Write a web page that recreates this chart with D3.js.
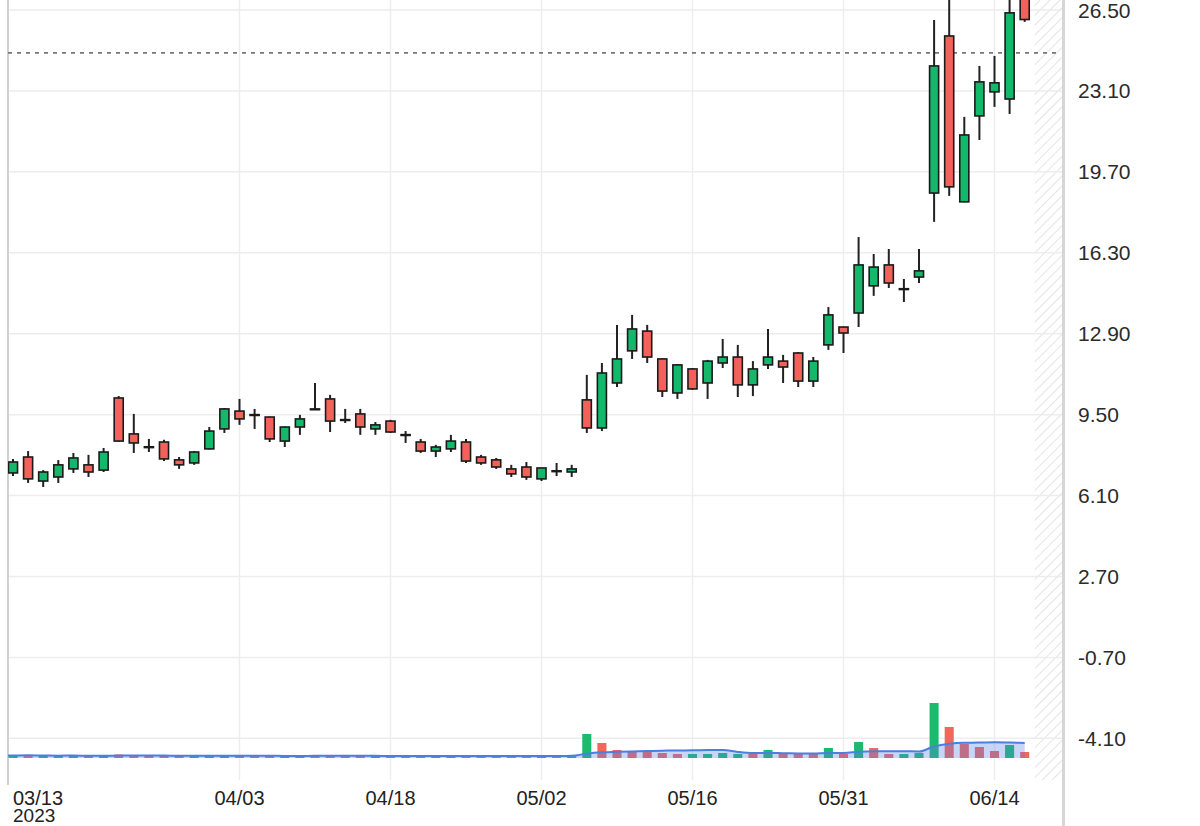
<!DOCTYPE html>
<html>
<head>
<meta charset="utf-8">
<script src="https://cdn.jsdelivr.net/npm/d3@7"></script>
<style>
  html, body { margin: 0; padding: 0; background: #fff; }
  svg { display: block; }
</style>
</head>
<body>
<svg id="chart" width="1200" height="826"></svg>
<script>
// ---------------- DATA ----------------
const dates = [
  "2023-03-13","2023-03-14","2023-03-15","2023-03-16","2023-03-17","2023-03-20","2023-03-21","2023-03-22","2023-03-23","2023-03-24",
  "2023-03-27","2023-03-28","2023-03-29","2023-03-30","2023-03-31",
  "2023-04-03","2023-04-04","2023-04-05","2023-04-06","2023-04-10","2023-04-11","2023-04-12","2023-04-13","2023-04-14",
  "2023-04-17","2023-04-18","2023-04-19","2023-04-20","2023-04-21","2023-04-24","2023-04-25","2023-04-26","2023-04-27","2023-04-28",
  "2023-05-01","2023-05-02","2023-05-03","2023-05-04","2023-05-05","2023-05-08","2023-05-09","2023-05-10","2023-05-11","2023-05-12",
  "2023-05-15","2023-05-16","2023-05-17","2023-05-18","2023-05-19","2023-05-22","2023-05-23","2023-05-24","2023-05-25","2023-05-26",
  "2023-05-30","2023-05-31",
  "2023-06-01","2023-06-02","2023-06-05","2023-06-06","2023-06-07","2023-06-08","2023-06-09","2023-06-12","2023-06-13","2023-06-14",
  "2023-06-15","2023-06-16"
];
const open = [
  7.05,7.72,6.71,6.88,7.22,7.39,7.17,10.20,8.69,8.15,
  8.35,7.60,7.47,8.06,8.90,
  9.65,9.50,9.40,8.39,8.98,9.74,10.16,9.29,9.53,
  8.90,9.23,8.66,8.35,7.97,8.06,8.35,7.72,7.60,7.22,
  7.30,6.80,7.14,7.09,10.12,8.94,10.83,12.18,13.01,11.84,
  10.41,11.42,10.83,11.67,11.92,10.75,11.59,11.75,12.09,10.91,
  12.43,13.18,
  13.77,14.91,15.79,14.79,15.28,18.81,25.41,18.44,22.05,23.06,
  22.76,28.10
];
const high = [
  7.64,7.97,7.17,7.59,7.89,7.81,8.10,10.28,9.53,8.48,
  8.44,7.72,7.97,8.98,9.78,
  10.16,9.74,9.42,9.00,9.49,10.83,10.33,9.74,9.74,
  9.19,9.28,8.81,8.48,8.23,8.65,8.48,7.81,7.68,7.39,
  7.51,7.26,7.47,7.39,11.17,11.67,13.27,13.69,13.27,11.86,
  11.61,11.46,11.80,12.68,12.43,11.75,13.10,12.01,12.13,11.92,
  14.02,13.20,
  16.96,16.25,16.46,15.20,16.46,26.08,27.40,22.01,24.15,24.57,
  27.20,28.60
];
const low = [
  6.92,6.63,6.46,6.63,7.05,6.88,7.09,8.36,7.89,7.93,
  7.55,7.22,7.39,8.04,8.73,
  9.07,8.90,8.35,8.14,8.65,9.70,8.77,9.15,8.65,
  8.65,8.73,8.31,7.89,7.72,7.93,7.47,7.39,7.22,6.88,
  6.76,6.71,6.92,6.88,8.73,8.81,10.66,11.84,11.67,10.24,
  10.16,10.54,10.16,11.46,10.24,10.28,11.42,10.83,10.66,10.66,
  12.22,12.09,
  13.18,14.49,14.82,14.23,15.03,17.60,18.69,18.42,21.04,22.43,
  22.13,26.00
];
const close = [
  7.51,6.80,7.09,7.39,7.68,7.09,7.93,8.39,8.31,8.13,
  7.64,7.39,7.93,8.81,9.74,
  9.32,9.48,8.48,8.98,9.32,9.72,9.23,9.27,8.98,
  9.07,8.77,8.64,7.97,8.14,8.39,7.55,7.47,7.30,7.01,
  6.88,7.26,7.12,7.22,8.94,11.25,11.84,13.10,11.92,10.49,
  11.59,10.58,11.75,11.92,10.75,11.42,11.92,11.50,10.91,11.75,
  13.69,12.93,
  15.79,15.70,15.03,14.77,15.54,24.15,19.07,21.25,23.48,23.44,
  26.38,26.10
];
// volume (millions, estimated)
const volume = [
  0.25,0.3,0.2,0.2,0.25,0.2,0.2,0.35,0.3,0.2,
  0.2,0.2,0.2,0.2,0.25,
  0.25,0.2,0.2,0.2,0.2,0.25,0.25,0.2,0.2,
  0.2,0.2,0.2,0.2,0.2,0.2,0.25,0.2,0.2,0.2,
  0.2,0.2,0.2,0.3,2.4,1.5,0.8,0.6,0.6,0.5,
  0.4,0.4,0.4,0.5,0.4,0.4,0.8,0.4,0.4,0.4,
  1.0,0.4,
  1.6,1.0,0.4,0.4,0.5,5.5,3.1,1.4,1.1,0.7,
  1.3,0.6
];
// volume bar direction as seen (1 = green, 0 = red)
const volumeUp = [
  1,0,1,1,1,0,1,0,0,0,
  0,0,1,1,1,
  0,0,0,1,1,0,0,0,0,
  1,0,0,0,1,1,0,0,0,0,
  0,1,0,1,1,0,0,0,0,0,
  0,1,1,1,1,0,1,0,0,0,
  1,0,
  1,0,0,1,1,1,0,0,0,0,
  1,0
];
const yTicks = [26.5, 23.1, 19.7, 16.3, 12.9, 9.5, 6.1, 2.7, -0.7, -4.1];
const xTickDates = ["2023-03-13","2023-04-03","2023-04-18","2023-05-02","2023-05-16","2023-05-31","2023-06-14"];
const xTickLabels = ["03/13","04/03","04/18","05/02","05/16","05/31","06/14"];
const yearLabel = "2023";
const lastPrice = 24.70;
const maPeriod = 10;

// ---------------- LAYOUT ----------------
const svg = d3.select("#chart");
const plot = { left: 8, right: 1062, top: 0, bottom: 780 };
const volBase = 758;
const GREEN = "#14b86a", RED = "#f2625a";
const FONT = "Liberation Sans, Arial, sans-serif";

const x = d3.scalePoint().domain(dates).range([13, 1024.7]);
const step = x.step();
const y = d3.scaleLinear().domain([-5.85, 26.92]).range([plot.bottom, plot.top]);
const vy = d3.scaleLinear().domain([0, 6]).range([volBase, volBase - 60]);

const defs = svg.append("defs");
defs.append("clipPath").attr("id", "clip")
  .append("rect").attr("x", plot.left).attr("y", plot.top)
  .attr("width", plot.right - plot.left).attr("height", plot.bottom - plot.top);
const pat = defs.append("pattern").attr("id", "hatch")
  .attr("patternUnits", "userSpaceOnUse").attr("width", 7).attr("height", 7)
  .attr("patternTransform", "rotate(45)");
pat.append("line").attr("x1", 0).attr("y1", 0).attr("x2", 0).attr("y2", 7)
  .attr("stroke", "#e4e4e4").attr("stroke-width", 2);

// hatched future area
const hatchX = x(dates[dates.length - 1]) + 10;
svg.append("rect").attr("x", hatchX).attr("y", plot.top)
  .attr("width", plot.right - hatchX).attr("height", plot.bottom - plot.top)
  .attr("fill", "url(#hatch)");

// gridlines
const grid = svg.append("g");
grid.selectAll("line.h").data(yTicks).join("line")
  .attr("x1", plot.left).attr("x2", plot.right)
  .attr("y1", d => y(d)).attr("y2", d => y(d))
  .attr("stroke", "#ededed").attr("stroke-width", 1.5);
grid.selectAll("line.v").data(xTickDates.slice(1)).join("line")
  .attr("x1", d => x(d)).attr("x2", d => x(d))
  .attr("y1", plot.top).attr("y2", plot.bottom)
  .attr("stroke", "#ededed").attr("stroke-width", 1.5);

// borders
svg.append("line").attr("x1", plot.left).attr("x2", plot.left)
  .attr("y1", 0).attr("y2", 785).attr("stroke", "#d2d2d2").attr("stroke-width", 2);
svg.append("line").attr("x1", 1063.5).attr("x2", 1063.5)
  .attr("y1", 0).attr("y2", 826).attr("stroke", "#d6d6d6").attr("stroke-width", 3);

const g = svg.append("g").attr("clip-path", "url(#clip)");

// last price dashed line
g.append("line").attr("x1", plot.left).attr("x2", 1060)
  .attr("y1", y(lastPrice)).attr("y2", y(lastPrice))
  .attr("stroke", "#777").attr("stroke-width", 1.6).attr("stroke-dasharray", "4,5");

// volume bars
const bars = dates.map((d, i) => ({ d, v: volume[i], up: volumeUp[i] }));
const vw = step * 0.6;
g.append("g").selectAll("rect").data(bars).join("rect")
  .attr("x", b => x(b.d) - vw / 2).attr("width", vw)
  .attr("y", b => vy(b.v)).attr("height", b => volBase - vy(b.v))
  .attr("fill", b => b.up ? "#1bbb6e" : "#f0675c");

// moving average of volume
const ma = dates.map((d, i) => {
  const s = volume.slice(Math.max(0, i - maPeriod + 1), i + 1);
  return { d, v: d3.mean(s) };
});
const maArea = d3.area().x(p => x(p.d)).y0(volBase).y1(p => vy(p.v)).curve(d3.curveMonotoneX);
const maLine = d3.line().x(p => x(p.d)).y(p => vy(p.v)).curve(d3.curveMonotoneX);
g.append("path").datum(ma).attr("d", maArea)
  .attr("fill", "rgba(85,125,230,0.32)");
g.append("path").datum(ma).attr("d", maLine)
  .attr("fill", "none").attr("stroke", "#4a7fe0").attr("stroke-width", 2);
g.append("line").attr("x1", plot.left).attr("x2", x(dates[0]))
  .attr("y1", vy(ma[0].v)).attr("y2", vy(ma[0].v))
  .attr("stroke", "#4a7fe0").attr("stroke-width", 2);

// candles
const candles = dates.map((d, i) => ({ d, o: open[i], h: high[i], l: low[i], c: close[i] }));
const cg = g.append("g");
cg.selectAll("line.wick").data(candles).join("line")
  .attr("x1", c => x(c.d)).attr("x2", c => x(c.d))
  .attr("y1", c => y(c.h)).attr("y2", c => y(c.l))
  .attr("stroke", "#222").attr("stroke-width", 2);
const bw = step * 0.6;
cg.selectAll("rect.body").data(candles).join("rect")
  .attr("x", c => x(c.d) - bw / 2).attr("width", bw)
  .attr("y", c => y(Math.max(c.o, c.c)))
  .attr("height", c => Math.max(0.8, Math.abs(y(c.o) - y(c.c))))
  .attr("fill", c => c.c >= c.o ? GREEN : RED)
  .attr("stroke", "#1a1a1a").attr("stroke-width", 1.6);

// y axis labels
svg.append("g").selectAll("text").data(yTicks).join("text")
  .attr("x", 1078).attr("y", d => y(d)).attr("dy", "0.36em")
  .attr("font-family", FONT)
  .attr("font-size", 21).attr("fill", "#2b2b2b")
  .text(d => d.toFixed(2));

// x axis labels
const xl = svg.append("g").attr("font-family", FONT)
  .attr("font-size", 20).attr("fill", "#222");
xl.selectAll("text").data(xTickDates).join("text")
  .attr("x", d => x(d))
  .attr("y", 805)
  .attr("text-anchor", (d, i) => i === 0 ? "start" : "middle")
  .text((d, i) => xTickLabels[i]);
xl.append("text").attr("x", x(xTickDates[0])).attr("y", 822)
  .attr("font-size", 19)
  .attr("text-anchor", "start").text(yearLabel);
</script>
</body>
</html>
